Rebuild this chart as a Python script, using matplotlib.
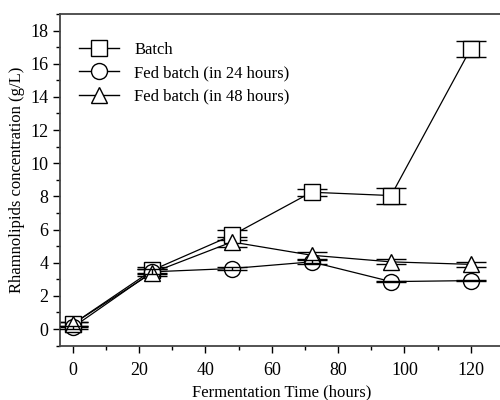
#! /usr/bin/env python3
"""
Rhamnolipids concentration vs fermentation time
"""

import matplotlib
matplotlib.use("Agg")
import matplotlib.pyplot as plt
from matplotlib.ticker import MultipleLocator

# data
hours = [0, 24, 48, 72, 96, 120]
batch = [0.3, 3.55, 5.65, 8.25, 8.05, 16.9]
batch_err = [0.15, 0.2, 0.3, 0.2, 0.48, 0.47]
fed24 = [0.1, 3.45, 3.65, 4.05, 2.86, 2.92]
fed24_err = [0.1, 0.15, 0.1, 0.12, 0.05, 0.05]
fed48 = [0.3, 3.4, 5.25, 4.45, 4.05, 3.9]
fed48_err = [0.1, 0.2, 0.3, 0.2, 0.15, 0.15]
labels = ['Batch', 'Fed batch (in 24 hours)', 'Fed batch (in 48 hours)']
markers = ['s', 'o', '^']


def main():
    plt.rcParams['font.family'] = ['Liberation Serif', 'DejaVu Serif']
    plt.rcParams['font.size'] = 12

    fig = plt.figure(figsize=(5, 4), dpi=100)
    ax = fig.add_axes([0.12, 0.136, 0.885, 0.829])

    # error bars above markers only for the circles
    err_z = [2.5, 4, 2.5]
    for y, e, m, lab, ez in zip([batch, fed24, fed48],
                                [batch_err, fed24_err, fed48_err],
                                markers, labels, err_z):
        ax.plot(hours, y, color='black', lw=0.9, zorder=2)
        ax.errorbar(hours, y, yerr=e, fmt='none', ecolor='black',
                    elinewidth=1.0, capsize=11, capthick=1.0, zorder=ez)
        ax.plot(hours, y, linestyle='none', marker=m, markersize=11.5,
                markerfacecolor='white', markeredgecolor='black',
                markeredgewidth=1.0, zorder=3, label=lab)

    # legend handles: line - marker - line
    handles = [plt.Line2D([], [], color='black', lw=1.0, marker=m,
                          markersize=11.5, markerfacecolor='white',
                          markeredgecolor='black') for m in markers]
    ax.legend(handles, labels, loc='upper left', frameon=False,
              bbox_to_anchor=(0.01, 0.962), handlelength=2.4,
              handletextpad=0.9, labelspacing=0.45, fontsize=12)

    ax.set_xlim(-3.85, 129.6)
    ax.set_ylim(-1, 19)
    ax.xaxis.set_major_locator(MultipleLocator(20))
    ax.xaxis.set_minor_locator(MultipleLocator(10))
    ax.yaxis.set_major_locator(MultipleLocator(2))
    ax.yaxis.set_minor_locator(MultipleLocator(1))
    ax.tick_params(which='major', direction='out', length=5, width=1,
                   labelsize=13)
    ax.tick_params(axis='x', which='major', pad=7)
    ax.tick_params(which='minor', direction='out', length=3, width=1)

    for s in ax.spines.values():
        s.set_linewidth(1.3)
        s.set_color('#444444')
    ax.spines['right'].set_visible(False)

    ax.set_xlabel('Fermentation Time (hours)', fontsize=12, labelpad=4)
    ax.set_ylabel('Rhamnolipids concentration (g/L)', fontsize=12,
                  labelpad=4)

    fig.savefig('out.png', dpi=100)


if __name__ == '__main__':
    main()
